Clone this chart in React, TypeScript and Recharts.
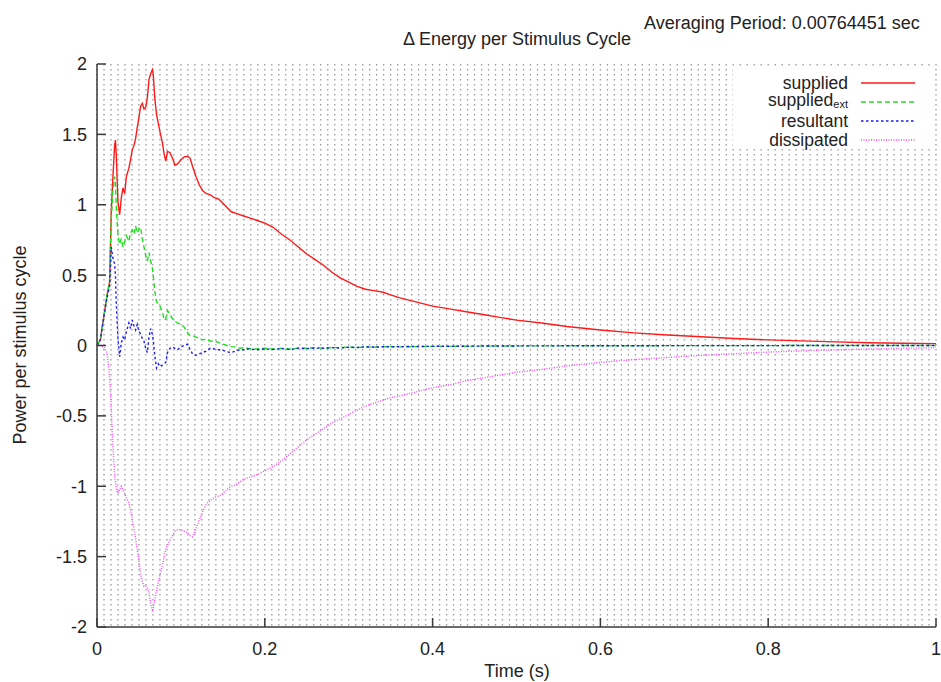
import React from "react";
import { LineChart, Line, XAxis, YAxis, CartesianGrid, Legend } from "recharts";

// time (s), sampled densely where the curves are busy
const times = [
  0, 0.004, 0.008, 0.012, 0.015, 0.017, 0.019, 0.021, 0.022, 0.023,
  0.025, 0.027, 0.029, 0.031, 0.033, 0.035, 0.038, 0.04, 0.042, 0.044,
  0.046, 0.048, 0.05, 0.052, 0.054, 0.056, 0.058, 0.06, 0.062, 0.064,
  0.066, 0.067, 0.069, 0.071, 0.073, 0.075, 0.078, 0.08, 0.082, 0.084,
  0.087, 0.09, 0.093, 0.096, 0.1, 0.104, 0.108, 0.111, 0.114, 0.118,
  0.122, 0.126, 0.13, 0.135, 0.14, 0.145, 0.15, 0.155, 0.16, 0.165,
  0.17, 0.175, 0.18, 0.19, 0.2, 0.21, 0.22, 0.23, 0.24, 0.25,
  0.26, 0.27, 0.28, 0.29, 0.3, 0.31, 0.32, 0.33, 0.34, 0.35,
  0.36, 0.38, 0.4, 0.42, 0.44, 0.46, 0.48, 0.5, 0.53, 0.56,
  0.6, 0.64, 0.68, 0.72, 0.76, 0.8, 0.84, 0.88, 0.92, 0.96,
  1,
];

const supplied = [
  0, 0.04, 0.2, 0.36, 0.45, 0.95, 1.2, 1.42, 1.46, 1.35,
  1.02, 0.93, 1.05, 1.12, 1.08, 1.2, 1.26, 1.32, 1.39, 1.42,
  1.47, 1.55, 1.62, 1.7, 1.72, 1.68, 1.69, 1.76, 1.89, 1.93,
  1.96, 1.93, 1.75, 1.64, 1.58, 1.52, 1.44, 1.36, 1.31, 1.38,
  1.37, 1.33, 1.28, 1.29, 1.32, 1.34, 1.345, 1.33, 1.27, 1.2,
  1.14, 1.1, 1.08, 1.07, 1.05, 1.04, 1.01, 0.98, 0.95, 0.94,
  0.93, 0.92, 0.91, 0.89, 0.87, 0.84, 0.79, 0.75, 0.7, 0.65,
  0.61, 0.57, 0.52, 0.48, 0.45, 0.42, 0.4, 0.39, 0.38, 0.36,
  0.34, 0.31, 0.28, 0.26, 0.24, 0.22, 0.2, 0.18, 0.16, 0.135,
  0.11, 0.09, 0.075, 0.062, 0.05, 0.04, 0.033, 0.026, 0.02, 0.016,
  0.013,
];

const suppliedExt = [
  0, 0.04, 0.2, 0.36, 0.45, 0.9, 1.1, 1.2, 1.15, 0.98,
  0.78, 0.72, 0.76, 0.7, 0.74, 0.78, 0.74, 0.8, 0.82, 0.79,
  0.85, 0.8, 0.83, 0.84, 0.76, 0.7, 0.64, 0.6, 0.66, 0.6,
  0.55, 0.5, 0.38, 0.31, 0.3, 0.28, 0.24, 0.18, 0.19, 0.25,
  0.22, 0.19, 0.17, 0.16, 0.15, 0.13, 0.09, 0.07, 0.07, 0.06,
  0.05, 0.04, 0.045, 0.03, 0.035, 0.02, 0.01, 0, -0.01, -0.01,
  -0.02, -0.015, -0.02, -0.025, -0.02, -0.025, -0.02, -0.025, -0.02, -0.02,
  -0.015, -0.02, -0.015, -0.015, -0.012, -0.015, -0.01, -0.012, -0.01, -0.008,
  -0.01, -0.008, -0.006, -0.006, -0.005, -0.004, -0.004, -0.003, -0.003, -0.002,
  -0.002, -0.002, -0.001, -0.001, -0.001, -0.001, 0, 0, 0, 0,
  0,
];

const resultant = [
  0, 0.04, 0.2, 0.34, 0.42, 0.7, 0.62, 0.58, 0.5, 0.3,
  0.05, -0.08, 0.02, 0.06, 0.04, 0.1, 0.16, 0.12, 0.18, 0.14,
  0.11, 0.15, 0.1, 0.08, 0.05, 0.03, -0.02, -0.05, 0.06, 0.12,
  0.08, 0.04, -0.08, -0.16, -0.13, -0.15, -0.14, -0.13, -0.12, -0.05,
  -0.02, -0.01, -0.02, -0.03, -0.01, 0, 0.01, -0.03, -0.06, -0.07,
  -0.06, -0.05, -0.04, -0.02, -0.025, -0.03, -0.035, -0.045, -0.05, -0.04,
  -0.03, -0.03, -0.025, -0.03, -0.025, -0.028, -0.022, -0.028, -0.02, -0.022,
  -0.018, -0.02, -0.015, -0.018, -0.012, -0.014, -0.01, -0.011, -0.009, -0.009,
  -0.008, -0.007, -0.006, -0.005, -0.005, -0.004, -0.004, -0.003, -0.003, -0.002,
  -0.002, -0.002, -0.001, -0.001, -0.001, -0.001, 0, 0, 0, 0,
  0,
];

const dissipated = [
  0, 0, -0.01, -0.05, -0.22, -0.45, -0.72, -0.92, -0.97, -1.02,
  -1.05, -1.02, -1.0, -1.03, -1.05, -1.08, -1.12, -1.17, -1.23, -1.3,
  -1.37, -1.45, -1.54, -1.62, -1.68, -1.71, -1.71, -1.72, -1.76, -1.84,
  -1.88, -1.87, -1.8, -1.74, -1.68, -1.63, -1.56, -1.5, -1.45, -1.42,
  -1.38, -1.35, -1.32, -1.31, -1.31, -1.32, -1.33, -1.35, -1.36, -1.3,
  -1.24, -1.18, -1.13, -1.1, -1.08, -1.07, -1.05, -1.02, -1.0, -0.99,
  -0.97, -0.95, -0.94, -0.92, -0.89, -0.86, -0.82, -0.77, -0.72, -0.67,
  -0.63, -0.59, -0.55, -0.52, -0.49, -0.46, -0.43, -0.41, -0.39, -0.37,
  -0.36, -0.33, -0.3, -0.28, -0.25, -0.23, -0.21, -0.19, -0.17, -0.145,
  -0.12, -0.1, -0.085, -0.07, -0.058, -0.047, -0.038, -0.031, -0.025, -0.02,
  -0.016,
];

const xTicks = [0, 0.2, 0.4, 0.6, 0.8, 1];
const yTicks = [-2, -1.5, -1, -0.5, 0, 0.5, 1, 1.5, 2];
const gridStep = 1 / 120;
const gridTicks = Array.from({ length: 121 }, (_, i) => i * gridStep);

const seriesKeys = ["supplied", "suppliedExt", "resultant", "dissipated"];
const seriesNames = ["supplied", "supplied_ext", "resultant", "dissipated"];
const seriesColors = ["#ff1a1a", "#1ee01e", "#1a1aff", "#ff40ff"];
const seriesDashes = [undefined, "5 3", "2.5 2.5", "1 1.5"];

const rows = times.map((t, i) => ({
  t,
  supplied: supplied[i],
  suppliedExt: suppliedExt[i],
  resultant: resultant[i],
  dissipated: dissipated[i],
}));

const FONT = '"Liberation Sans", Arial, Helvetica, sans-serif';
const AXIS = "#3a3a3a";

function legendLabel(name: string) {
  if (name === "supplied_ext") {
    return (
      <span style={{ lineHeight: "14px", position: "relative", top: -1.5 }}>
        supplied
        <span
          style={{ fontSize: 11, lineHeight: "8px", position: "relative", top: 2 }}
        >
          ext
        </span>
      </span>
    );
  }
  return name;
}

function GnuLegend() {
  return (
    <div
      style={{
        background: "#fff",
        width: 199,
        height: 82,
        boxSizing: "border-box",
        paddingTop: 6,
        fontFamily: FONT,
      }}
    >
      {seriesKeys.map((k, i) => (
        <div key={k} style={{ display: "flex", alignItems: "center", height: 19 }}>
          <span
            style={{
              width: 115,
              textAlign: "right",
              fontSize: 17.5,
              lineHeight: "14px",
              color: "#222",
              whiteSpace: "nowrap",
            }}
          >
            {legendLabel(seriesNames[i])}
          </span>
          <svg width={54} height={6} style={{ marginLeft: 13 }}>
            <line
              x1={0}
              x2={54}
              y1={3}
              y2={3}
              stroke={seriesColors[i]}
              strokeWidth={1.5}
              strokeDasharray={seriesDashes[i]}
            />
          </svg>
        </div>
      ))}
    </div>
  );
}

const gridGen = ({ xAxis, offset }: any) =>
  gridTicks.map((v) =>
    xAxis && typeof xAxis.scale === "function"
      ? xAxis.scale(v)
      : offset.left + v * offset.width
  );

export default function App() {
  return (
    <div
      style={{
        position: "absolute",
        left: 0,
        top: 0,
        width: 941,
        height: 682,
        background: "#fff",
        fontFamily: FONT,
        color: "#222",
      }}
    >
      <LineChart
        width={941}
        height={682}
        data={rows}
        margin={{ top: 64, right: 5, bottom: 0, left: 0 }}
      >
        <CartesianGrid
          xAxisId="x"
          yAxisId="y"
          horizontal={false}
          stroke="#9a9a9a"
          strokeWidth={1.3}
          strokeDasharray="1.5 3.5"
          verticalCoordinatesGenerator={gridGen}
        />
        <XAxis
          xAxisId="x"
          type="number"
          dataKey="t"
          domain={[0, 1]}
          ticks={xTicks}
          interval={0}
          height={55}
          tickSize={-9}
          tickMargin={24}
          stroke={AXIS}
          strokeWidth={1.5}
          tick={{ fontSize: 18, fill: "#222", fontFamily: FONT }}
          allowDataOverflow
        />
        <XAxis
          xAxisId="xTop"
          orientation="top"
          type="number"
          dataKey="t"
          domain={[0, 1]}
          ticks={xTicks}
          interval={0}
          height={0}
          tickSize={-9}
          tick={false}
          stroke={AXIS}
          strokeWidth={1.5}
        />
        <YAxis
          yAxisId="y"
          type="number"
          domain={[-2, 2]}
          ticks={yTicks}
          interval={0}
          width={97}
          tickSize={-9}
          tickMargin={19}
          stroke={AXIS}
          strokeWidth={1.5}
          tick={{ fontSize: 18, fill: "#222", fontFamily: FONT }}
          allowDataOverflow
        />
        <YAxis
          yAxisId="yRight"
          orientation="right"
          type="number"
          domain={[-2, 2]}
          ticks={yTicks}
          interval={0}
          width={0}
          tickSize={-9}
          tick={false}
          stroke={AXIS}
          strokeWidth={1.5}
        />
        {seriesKeys.map((k, i) => (
          <Line
            key={k}
            xAxisId="x"
            yAxisId="y"
            type="linear"
            dataKey={k}
            name={seriesNames[i]}
            stroke={seriesColors[i]}
            strokeWidth={1.4}
            strokeDasharray={seriesDashes[i]}
            dot={false}
            activeDot={false}
            isAnimationActive={false}
          />
        ))}
        <Legend
          layout="vertical"
          align="center"
          verticalAlign="middle"
          wrapperStyle={{ left: 733, top: 67, width: 199 }}
          content={() => <GnuLegend />}
        />
      </LineChart>

      <div
        style={{
          position: "absolute",
          left: 644,
          top: 13,
          fontSize: 18,
          whiteSpace: "nowrap",
        }}
      >
        Averaging Period: 0.00764451 sec
      </div>
      <div
        style={{
          position: "absolute",
          left: 517,
          top: 29,
          transform: "translateX(-50%)",
          fontSize: 18,
          whiteSpace: "nowrap",
        }}
      >
        Δ Energy per Stimulus Cycle
      </div>
      <div
        style={{
          position: "absolute",
          left: 20,
          top: 345,
          transform: "translate(-50%, -50%) rotate(-90deg)",
          fontSize: 18,
          whiteSpace: "nowrap",
        }}
      >
        Power per stimulus cycle
      </div>
      <div
        style={{
          position: "absolute",
          left: 517,
          top: 661,
          transform: "translateX(-50%)",
          fontSize: 18,
          whiteSpace: "nowrap",
        }}
      >
        Time (s)
      </div>
    </div>
  );
}
